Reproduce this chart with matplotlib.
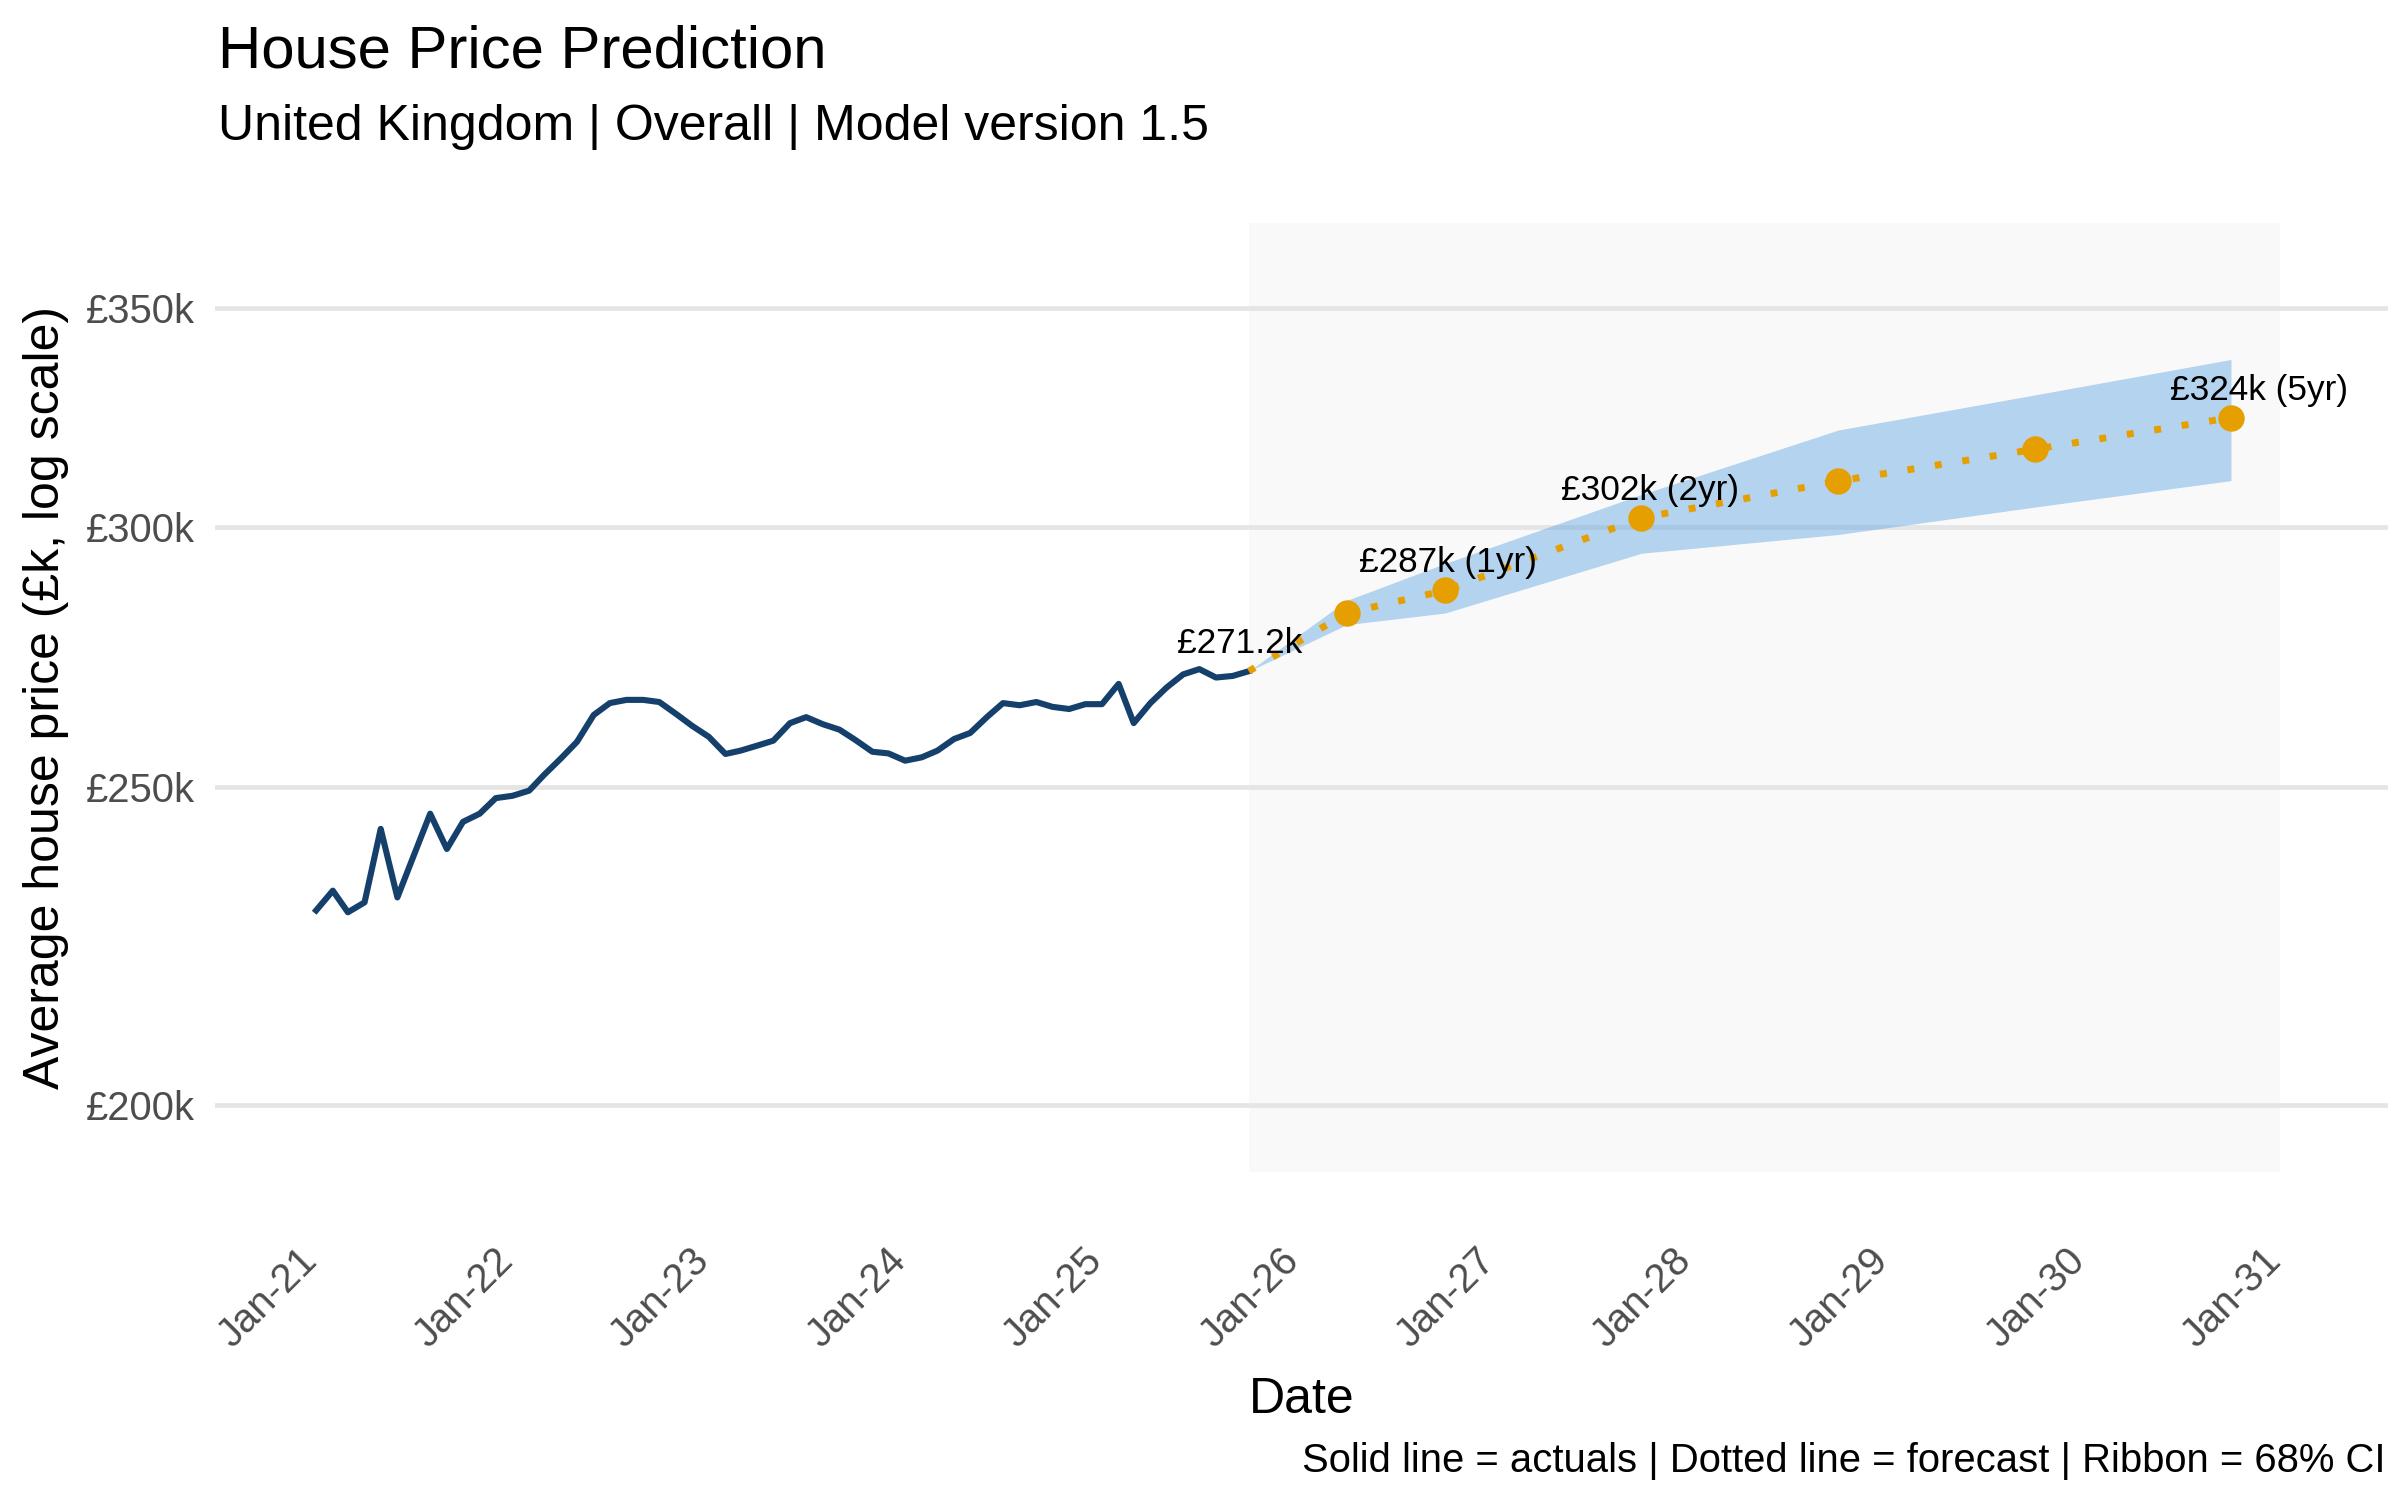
import pandas as pd
import matplotlib
matplotlib.use("Agg")
import matplotlib.pyplot as plt
import matplotlib.dates as mdates
import matplotlib.transforms as mtransforms
from matplotlib.ticker import FixedLocator, NullLocator

# Monthly actuals (£k), Jan 2021 - Oct 2025
actual_start = "2021-01-01"
actual_prices = [
    229.3, 232.5, 229.0, 230.6, 242.8, 231.4, 238.2, 245.4, 239.4, 244.0, 245.4, 248.1,
    248.5, 249.4, 252.2, 255.1, 258.1, 263.0, 265.2, 265.8, 265.8, 265.4, 263.2, 261.0,
    259.0, 255.9, 256.5, 257.4, 258.3, 261.5, 262.6, 261.3, 260.3, 258.4, 256.3, 256.0,
    254.7, 255.3, 256.5, 258.6, 259.7, 262.6, 265.2, 264.8, 265.4, 264.5, 264.1, 265.0,
    265.0, 268.8, 261.5, 265.2, 268.1, 270.6, 271.6, 270.0, 270.3, 271.2,
]

# Forecast (£k) with 68% interval
forecast_dates = ["2026-04-01", "2026-10-01", "2027-10-01", "2028-10-01", "2029-10-01", "2030-10-01"]
forecast_mid = [282.5, 287.0, 302.0, 309.9, 316.9, 324.0]
forecast_low = [280.2, 282.5, 294.6, 298.5, 304.3, 310.0]
forecast_high = [285.0, 292.5, 307.0, 321.2, 329.2, 337.5]

# labelled forecast points (index into forecast, None = last actual)
label_idx = [None, 1, 2, 5]
label_text = ["£271.2k", "£287k (1yr)", "£302k (2yr)", "£324k (5yr)"]

horizon_end = "2031-01-01"
y_ticks = [200, 250, 300, 350]
y_tick_labels = ["£200k", "£250k", "£300k", "£350k"]

plt.rcParams["font.family"] = ["Liberation Sans", "DejaVu Sans"]

act_dates = pd.date_range(actual_start, periods=len(actual_prices), freq="MS")
fc_dates = pd.to_datetime(forecast_dates)
last_date = act_dates[-1]
last_val = actual_prices[-1]

# forecast path starts at the last actual
path_dates = [last_date] + list(fc_dates)
path_mid = [last_val] + forecast_mid
path_low = [last_val] + forecast_low
path_high = [last_val] + forecast_high

fig = plt.figure(figsize=(12, 7.5), dpi=200)
ax = fig.add_axes([0.0896, 0.2189, 0.9054, 0.6324])

ax.set_yscale("log")
ax.set_ylim(190.9, 371.4)
ax.set_xlim(pd.Timestamp("2020-06-27"), pd.Timestamp("2031-07-20"))

ax.set_axisbelow(True)
ax.yaxis.grid(True, color="#E5E5E5", linewidth=1.7)
ax.xaxis.grid(False)

# forecast window shading
ax.axvspan(last_date, pd.Timestamp(horizon_end), facecolor="#E5E5E5", alpha=0.22,
           edgecolor="none", zorder=0.6)

ax.fill_between(path_dates, path_low, path_high, color="#4A9AE2", alpha=0.4,
                linewidth=0, zorder=2)
ax.plot(act_dates, actual_prices, color="#15406B", linewidth=2.2, zorder=3,
        solid_joinstyle="round")
ax.plot(path_dates, path_mid, color="#E69F00", linewidth=2.5, dashes=(1, 3),
        dash_capstyle="butt", zorder=4)
ax.plot(fc_dates, forecast_mid, "o", color="#E69F00", markersize=9.5,
        markeredgewidth=0, zorder=5)

nudge_pts = [-3.2, 1.1, 3.2, 10.0]
for idx, txt, dx in zip(label_idx, label_text, nudge_pts):
    if idx is None:
        xd, yv = last_date, last_val
    else:
        xd, yv = fc_dates[idx], forecast_mid[idx]
    ax.annotate(txt, (xd, yv), xytext=(dx, 6.5), textcoords="offset points",
                ha="center", va="baseline", fontsize=12.7, color="black", zorder=6)

ax.yaxis.set_major_locator(FixedLocator(y_ticks))
ax.yaxis.set_minor_locator(NullLocator())
ax.set_yticklabels(y_tick_labels)

ax.xaxis.set_major_locator(mdates.YearLocator(1, month=1, day=1))
ax.xaxis.set_major_formatter(mdates.DateFormatter("%b-%y"))
ax.xaxis.set_minor_locator(NullLocator())

ax.tick_params(axis="y", length=0, pad=7.3, labelsize=14.4, labelcolor="#4D4D4D")
ax.tick_params(axis="x", length=0, pad=25, labelsize=14.4, labelcolor="#4D4D4D")
shift = mtransforms.ScaledTranslation(8 / 200, 0, fig.dpi_scale_trans)
for lab in ax.get_xticklabels():
    lab.set_rotation(45)
    lab.set_ha("right")
    lab.set_va("top")
    lab.set_transform(lab.get_transform() + shift)

for sp in ax.spines.values():
    sp.set_visible(False)

fig.text(0.0908, 0.9547, "House Price Prediction", fontsize=21.6, ha="left", va="baseline")
fig.text(0.0908, 0.9067, "United Kingdom | Overall | Model version 1.5", fontsize=18,
         ha="left", va="baseline")
fig.text(0.5423, 0.058, "Date", fontsize=18, ha="center", va="baseline")
fig.text(0.0192, 0.535, "Average house price (£k, log scale)", fontsize=18,
         rotation=90, ha="center", va="center")
fig.text(0.99375, 0.0187, "Solid line = actuals | Dotted line = forecast | Ribbon = 68% CI",
         fontsize=14.4, ha="right", va="baseline")

fig.savefig("out.png", dpi=200, facecolor="white")
